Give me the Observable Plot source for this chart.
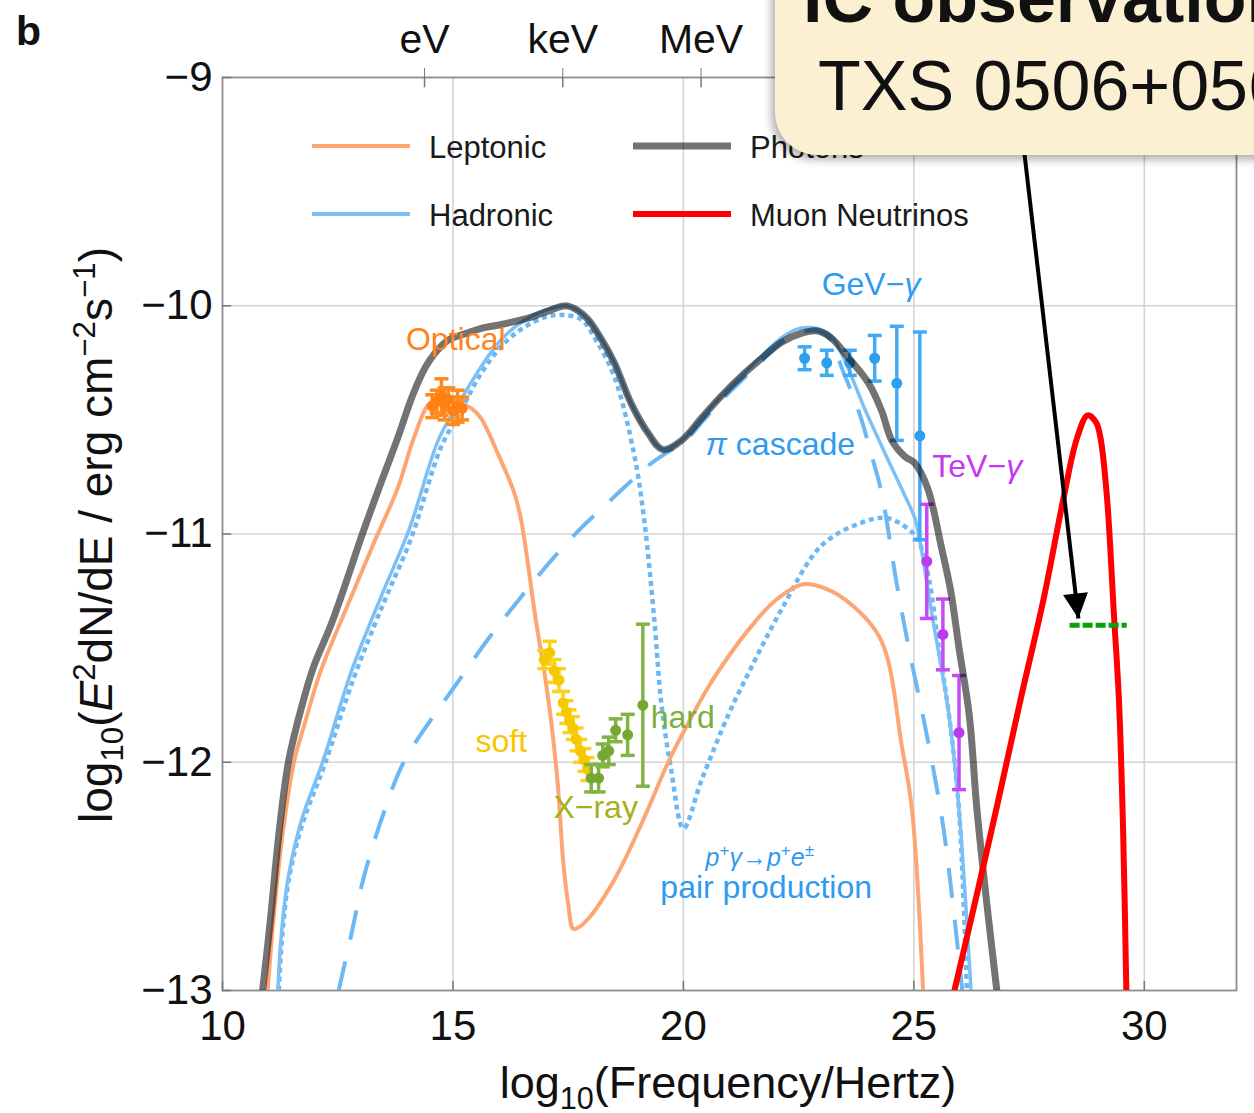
<!DOCTYPE html>
<html>
<head>
<meta charset="utf-8">
<script src="https://cdn.jsdelivr.net/npm/d3@7"></script>
<script src="https://cdn.jsdelivr.net/npm/@observablehq/plot@0.6"></script>
<style>
html,body{margin:0;padding:0;background:#fff;}
#wrap{position:relative;width:1254px;height:1113px;overflow:hidden;background:#fff;font-family:"Liberation Sans",Arial,Helvetica,sans-serif;}
#chart svg{display:block;}
.callout{position:absolute;left:775px;top:-90px;width:700px;height:245px;background:#FCF0D3;border-radius:42px;box-shadow:-3px 4px 10px rgba(0,0,0,0.35);}
.callout div{position:absolute;white-space:nowrap;font-size:70px;line-height:70px;color:#111;}
.l1{left:28px;top:53px;font-weight:bold;}
.l2{left:43px;top:141px;}
</style>
</head>
<body>
<div id="wrap"><div id="chart"></div>
<div class="callout"><div class="l1">IC observation</div><div class="l2">TXS 0506+056</div></div>
</div>
<script>
const FONT = '"Liberation Sans", Arial, Helvetica, sans-serif';

// ---- model curves (log10 frequency, log10 E^2 dN/dE) ----
const photonsX = [10.87, 11.04, 11.22, 11.43, 11.7, 11.98, 12.35, 12.7, 13.0, 13.43, 13.8, 14.13, 14.4, 14.6, 14.9, 15.3, 15.6, 16.1, 16.7, 17.1, 17.45, 17.7, 17.93, 18.2, 18.5, 18.87, 19.24, 19.55, 19.96, 20.4, 20.8, 21.3, 21.7, 22.13, 22.57, 22.9, 23.2, 23.59, 24.02, 24.3, 24.52, 24.8, 25.02, 25.3, 25.6, 25.8, 25.98, 26.2, 26.37, 26.6, 26.8];
const photonsY = [-13, -12.69, -12.32, -12.0, -11.77, -11.58, -11.40, -11.2, -11.02, -10.78, -10.58, -10.39, -10.27, -10.21, -10.15, -10.12, -10.10, -10.08, -10.05, -10.02, -10.0, -10.02, -10.06, -10.14, -10.25, -10.43, -10.56, -10.63, -10.59, -10.49, -10.4, -10.3, -10.23, -10.16, -10.12, -10.11, -10.14, -10.23, -10.34, -10.46, -10.59, -10.66, -10.69, -10.8, -11.06, -11.25, -11.5, -11.79, -12.21, -12.65, -13];

const leptonicX = [10.98, 11.1, 11.3, 11.55, 11.8, 12.13, 12.7, 13.26, 13.8, 14.15, 14.48, 14.8, 15.1, 15.4, 15.6, 15.98, 16.33, 16.48, 16.8, 16.98, 17.13, 17.28, 17.39, 17.5, 17.61, 17.75, 18.0, 18.43, 18.72, 19.2, 19.67, 20.1, 20.54, 21.0, 21.41, 22.0, 22.6, 23.1, 23.65, 24.3, 24.74, 24.96, 25.2];
const leptonicY = [-13, -12.7, -12.32, -12.0, -11.82, -11.6, -11.32, -11.05, -10.8, -10.58, -10.43, -10.40, -10.42, -10.45, -10.49, -10.65, -10.82, -10.94, -11.38, -11.6, -11.82, -12.11, -12.43, -12.62, -12.73, -12.72, -12.67, -12.54, -12.43, -12.22, -12.0, -11.83, -11.67, -11.53, -11.42, -11.29, -11.22, -11.24, -11.31, -11.47, -11.93, -12.21, -13];

const hadronicX = [11.2, 11.28, 11.43, 11.72, 12.17, 12.8, 13.45, 14.05, 14.7, 15.15, 15.6, 16.04, 16.5, 17.0, 17.45, 17.7, 17.93, 18.2, 18.5, 18.87, 19.24, 19.55, 19.96, 20.4, 20.8, 21.3, 21.7, 22.13, 22.5, 22.9, 23.2, 23.5, 23.93, 24.2, 24.52, 24.8, 25.02, 25.13, 25.39, 25.76, 25.98, 26.24];
const hadronicY = [-13, -12.75, -12.5, -12.25, -12.0, -11.6, -11.27, -10.98, -10.58, -10.42, -10.27, -10.15, -10.07, -10.02, -10.0, -10.02, -10.06, -10.14, -10.25, -10.43, -10.56, -10.63, -10.59, -10.49, -10.4, -10.3, -10.22, -10.14, -10.1, -10.1, -10.13, -10.24, -10.45, -10.57, -10.71, -10.83, -10.93, -11.03, -11.35, -11.79, -12.21, -13];

const pairSynchX = [11.22, 11.3, 11.45, 11.75, 12.2, 12.85, 13.5, 14.09, 14.74, 15.17, 15.6, 16.04, 16.5, 17.0, 17.35, 17.78, 18.1, 18.5, 18.93, 19.15, 19.37, 19.52, 19.74, 20.0, 20.39, 20.98, 21.41, 22.13, 23.0, 23.87, 24.41, 24.89, 25.1, 25.33, 25.54, 25.76, 25.98, 26.15];
const pairSynchY = [-13, -12.75, -12.5, -12.26, -12.02, -11.63, -11.3, -11.02, -10.62, -10.46, -10.3, -10.18, -10.1, -10.05, -10.04, -10.06, -10.15, -10.31, -10.65, -10.94, -11.38, -11.74, -12.04, -12.29, -12.08, -11.79, -11.61, -11.33, -11.05, -10.95, -10.93, -10.98, -11.03, -11.2, -11.5, -11.79, -12.21, -13];

const cascadeX = [12.52, 12.8, 13.07, 13.5, 13.93, 14.5, 15.1, 15.8, 16.5, 17.2, 17.8, 18.22, 18.8, 19.24, 19.67, 20.0, 20.4, 20.8, 21.3, 21.7, 22.13, 22.5, 22.9, 23.2, 23.43, 23.8, 24.09, 24.3, 24.63, 24.91, 25.28, 25.65, 26.05];
const cascadeY = [-13, -12.75, -12.5, -12.22, -12.0, -11.82, -11.65, -11.45, -11.27, -11.1, -10.97, -10.89, -10.78, -10.70, -10.64, -10.6, -10.51, -10.42, -10.32, -10.24, -10.16, -10.12, -10.11, -10.15, -10.27, -10.46, -10.66, -10.82, -11.22, -11.52, -11.88, -12.3, -13];

const neutrinoX = [25.88, 26.4, 26.85, 27.31, 27.82, 28.25, 28.54, 28.77, 28.95, 29.05, 29.19, 29.34, 29.45, 29.54, 29.61];
const neutrinoY = [-13, -12.55, -12.15, -11.73, -11.28, -10.84, -10.58, -10.48, -10.51, -10.58, -10.84, -11.35, -11.73, -12.3, -13];

// ---- data points with error bars ----
const opticalX = [14.55, 14.65, 14.75, 14.82, 14.9, 15.0, 15.1, 15.2];
const opticalY = [-10.44, -10.42, -10.40, -10.43, -10.41, -10.46, -10.44, -10.45];
const opticalErr = [0.05, 0.05, 0.08, 0.07, 0.05, 0.06, 0.07, 0.05];

const softX = [16.98, 17.1, 17.2, 17.3, 17.39, 17.46, 17.53, 17.6, 17.68, 17.76, 17.85, 17.92];
const softY = [-11.55, -11.52, -11.6, -11.64, -11.74, -11.78, -11.82, -11.85, -11.9, -11.95, -11.99, -12.03];
const softErr = [0.04, 0.05, 0.05, 0.05, 0.05, 0.05, 0.05, 0.05, 0.05, 0.05, 0.05, 0.05];

const hardX = [18.0, 18.16, 18.25, 18.38, 18.53, 18.79, 19.12];
const hardY = [-12.07, -12.07, -11.97, -11.95, -11.86, -11.88, -11.75];
const hardErr = [0.06, 0.06, 0.05, 0.06, 0.05, 0.09, 0.355];

const gevX = [22.63, 23.11, 23.61, 24.15, 24.63, 25.13];
const gevY = [-10.23, -10.25, -10.25, -10.23, -10.34, -10.57];
const gevErr = [0.05, 0.055, 0.055, 0.10, 0.25, 0.455];

const tevX = [25.28, 25.63, 25.98];
const tevY = [-11.12, -11.44, -11.87];
const tevErr = [0.25, 0.155, 0.25];

// IceCube observation and pointer arrow
const icX1 = [28.39], icX2 = [29.63], icY = [-11.40];
const arrowFrom = [27.38, -9.3], arrowTo = [28.57, -11.37];

// ---- axes ----
const xTicks = [10, 15, 20, 25, 30];
const yTicks = [-13, -12, -11, -10, -9];
const xGrid = [15, 20, 25, 30];
const yGrid = [-12, -11, -10];
// photon energy markers on the top axis (GeV/TeV/PeV lie under the callout box)
const energyTicks = [14.383, 17.383, 20.383];
const energyLabels = ["eV", "keV", "MeV"];

// ---- annotations ----
const labelText = ["Optical", "soft", "X−ray", "hard", "GeV−*γ*", "*π* cascade", "TeV−*γ*", "*p*^{+}*γ*→*p*^{+}*e*^{±}", "pair production"];
const labelX = [13.98, 15.49, 17.18, 19.29, 23.0, 20.48, 25.40, 20.48, 19.50];
const labelY = [-10.151, -11.912, -12.201, -11.807, -9.910, -10.611, -10.707, -12.418, -12.551];
const labelColor = ["#FF8420", "#F7C600", "#A6B01E", "#7BAE3A", "#2F9BEF", "#2F9BEF", "#C837F0", "#2F9BEF", "#2F9BEF"];
const labelSize = [32, 32, 32, 32, 32, 32, 32, 25, 32];

const legendLabels = ["Leptonic", "Hadronic", "Photons", "Muon Neutrinos"];

// ---- colours ----
const LEP = "#FCA674", HAD = "#7CC0F6", HADL = "#6BB8F5";

const rows = (xs, ys) => xs.map((x, i) => ({x, y: ys[i]}));
const bars = (xs, ys, es) => xs.map((x, i) => ({x, y: ys[i], lo: ys[i] - es[i], hi: ys[i] + es[i]}));

const cap = {draw(ctx) { ctx.moveTo(-7, 0); ctx.lineTo(7, 0); }};
const head = {draw(ctx) { ctx.moveTo(0, 0); ctx.lineTo(-12.5, -25); ctx.lineTo(12.5, -25); ctx.closePath(); }};

function errorBars(data, barColor, dotColor, r = 5.5) {
  return [
    Plot.ruleX(data, {x: "x", y1: "lo", y2: "hi", stroke: barColor, strokeWidth: 3.5}),
    Plot.dot(data, {x: "x", y: "lo", symbol: cap, r: 4, fill: "none", stroke: barColor, strokeWidth: 3.5}),
    Plot.dot(data, {x: "x", y: "hi", symbol: cap, r: 4, fill: "none", stroke: barColor, strokeWidth: 3.5}),
    Plot.dot(data, {x: "x", y: "y", r, fill: dotColor, stroke: "none"})
  ];
}

const lineOpts = {x: "x", y: "y", curve: "catmull-rom", clip: true, strokeLinejoin: "round"};
const dashOpts = {...lineOpts, strokeLinecap: "butt"};

const labels = labelText.map((t, i) => ({text: t, x: labelX[i], y: labelY[i], color: labelColor[i], size: labelSize[i]}));

const arrowData = [{x1: arrowFrom[0], y1: arrowFrom[1], x2: arrowTo[0], y2: arrowTo[1]}];
const icData = icY.map((y, i) => ({y, x1: icX1[i], x2: icX2[i]}));

const plot = Plot.plot({
  width: 1254, height: 1113,
  marginLeft: 222, marginRight: 18, marginTop: 77, marginBottom: 123,
  x: {domain: [10, 32]},
  y: {domain: [-13, -9]},
  style: {fontFamily: FONT, background: "white", overflow: "visible", color: "#111"},
  marks: [
    Plot.gridX(xGrid, {stroke: "#d4d4d4", strokeOpacity: 1, strokeWidth: 1.6}),
    Plot.gridY(yGrid, {stroke: "#d4d4d4", strokeOpacity: 1, strokeWidth: 1.6}),
    Plot.frame({stroke: "#8c8c8c", strokeWidth: 1.8}),
    Plot.ruleX(xTicks, {y1: -13, y2: -12.96, stroke: "#777", strokeWidth: 1.5}),
    Plot.ruleY(yTicks, {x1: 10, x2: 10.2, stroke: "#777", strokeWidth: 1.5}),
    Plot.ruleX(energyTicks, {y1: -9, y2: -9.045, stroke: "#777", strokeWidth: 1.5}),
    // hadronic components
    Plot.line(rows(cascadeX, cascadeY), {...dashOpts, stroke: HADL, strokeWidth: 4, strokeDasharray: "30,22"}),
    Plot.line(rows(pairSynchX, pairSynchY), {...dashOpts, stroke: HADL, strokeWidth: 4.5, strokeDasharray: "5,4"}),
    Plot.line(rows(hadronicX, hadronicY), {...lineOpts, stroke: HAD, strokeWidth: 3.5}),
    Plot.line(rows(leptonicX, leptonicY), {...lineOpts, stroke: LEP, strokeWidth: 4}),
    // data
    ...errorBars(bars(opticalX, opticalY, opticalErr), "#FF8A1E", "#FF7F11"),
    ...errorBars(bars(softX, softY, softErr), "#F8D21C", "#F5C800"),
    ...errorBars(bars(hardX, hardY, hardErr), "#82B344", "#74A832"),
    ...errorBars(bars(gevX, gevY, gevErr), "#45AAF4", "#2E9EF0"),
    ...errorBars(bars(tevX, tevY, tevErr), "#C44CF4", "#B83CF0"),
    // totals
    Plot.line(rows(photonsX, photonsY), {...lineOpts, stroke: "#000", strokeOpacity: 0.55, strokeWidth: 7}),
    Plot.line(rows(neutrinoX, neutrinoY), {...lineOpts, stroke: "#FF0000", strokeWidth: 6}),
    // IceCube
    Plot.ruleY(icData, {y: "y", x1: "x1", x2: "x2", stroke: "#0AA00A", strokeWidth: 5, strokeDasharray: "10,3"}),
    Plot.link(arrowData, {x1: "x1", y1: "y1", x2: "x2", y2: "y2", stroke: "#000", strokeWidth: 4}),
    Plot.dot(arrowData, {x: "x2", y: "y2", symbol: head, r: 10, fill: "#000", stroke: "none", rotate: -6.7}),
    // labels
    ...labels.map(l => Plot.text([l], {x: "x", y: "y", text: "text", fill: l.color, fontSize: l.size, textAnchor: "start"})),
    // axes
    Plot.axisX(xTicks, {anchor: "bottom", tickSize: 0, tickPadding: 20, fontSize: 42, label: null, tickFormat: d => String(d)}),
    Plot.axisY(yTicks, {anchor: "left", tickSize: 0, tickPadding: 10, fontSize: 42, label: null, tickFormat: d => (d < 0 ? "−" : "") + Math.abs(d)}),
    Plot.axisX(energyTicks, {anchor: "top", tickSize: 10, tickPadding: 15, fontSize: 41, label: null, stroke: "#777", tickFormat: d => energyLabels[energyTicks.indexOf(d)]})
  ]
});

document.getElementById("chart").appendChild(plot);

// rich text: ^{sup}, _{sub}, *italic*
function richText(sel, str, f) {
  sel.text(null);
  const re = /(\^\{[^}]*\}|_\{[^}]*\}|\*[^*]*\*)/g;
  let shift = 0;
  str.split(re).filter(s => s && s.length).forEach(tok => {
    let t = tok, dy = 0, size = null, italic = false;
    if (tok.startsWith("^{")) { t = tok.slice(2, -1); dy = -0.38 * f; size = 0.68 * f; }
    else if (tok.startsWith("_{")) { t = tok.slice(2, -1); dy = 0.24 * f; size = 0.68 * f; }
    else if (tok.startsWith("*") && tok.endsWith("*") && tok.length > 1) { t = tok.slice(1, -1); italic = true; }
    const ts = sel.append("tspan").text(t);
    const d = dy - shift;
    if (d) ts.attr("dy", d);
    shift = dy;
    if (size) ts.attr("font-size", size);
    if (italic) ts.attr("font-style", "italic");
  });
}

const svg = d3.select(plot);
svg.selectAll("text").each(function () {
  const s = this.textContent;
  if (/\^\{|_\{|\*/.test(s)) {
    const f = parseFloat(getComputedStyle(this).fontSize) || 32;
    richText(d3.select(this), s, f);
  }
});

// legend (inside plot area)
const legendStyle = [
  {color: LEP, width: 4, opacity: 1},
  {color: HAD, width: 4, opacity: 1},
  {color: "#000", width: 7, opacity: 0.55},
  {color: "#FF0000", width: 6, opacity: 1}
];
const legendPos = [[312, 146], [312, 214], [633, 146], [633, 214]];
const lg = svg.append("g").attr("font-family", FONT).attr("font-size", 31).attr("fill", "#1a1a1a").attr("text-anchor", "start");
legendLabels.forEach((lab, i) => {
  const [lx, ly] = legendPos[i];
  lg.append("line").attr("x1", lx).attr("x2", lx + 98).attr("y1", ly).attr("y2", ly)
    .attr("stroke", legendStyle[i].color).attr("stroke-width", legendStyle[i].width).attr("stroke-opacity", legendStyle[i].opacity);
  lg.append("text").attr("x", lx + 117).attr("y", ly + 12).attr("text-anchor", "start").text(lab);
});

// axis titles and panel letter
const tg = svg.append("g").attr("font-family", FONT).attr("fill", "#111");
richText(tg.append("text").attr("x", 728).attr("y", 1098).attr("text-anchor", "middle").attr("font-size", 45), "log_{10}(Frequency/Hertz)", 45);
richText(tg.append("text").attr("transform", "translate(112,535) rotate(-90)").attr("text-anchor", "middle").attr("font-size", 46), "log_{10}(*E*^{2}dN/dE / erg cm^{−2}s^{−1})", 46);
tg.append("text").attr("x", 16).attr("y", 45).attr("font-size", 41).attr("font-weight", "bold").attr("text-anchor", "start").text("b");
</script>
</body>
</html>
